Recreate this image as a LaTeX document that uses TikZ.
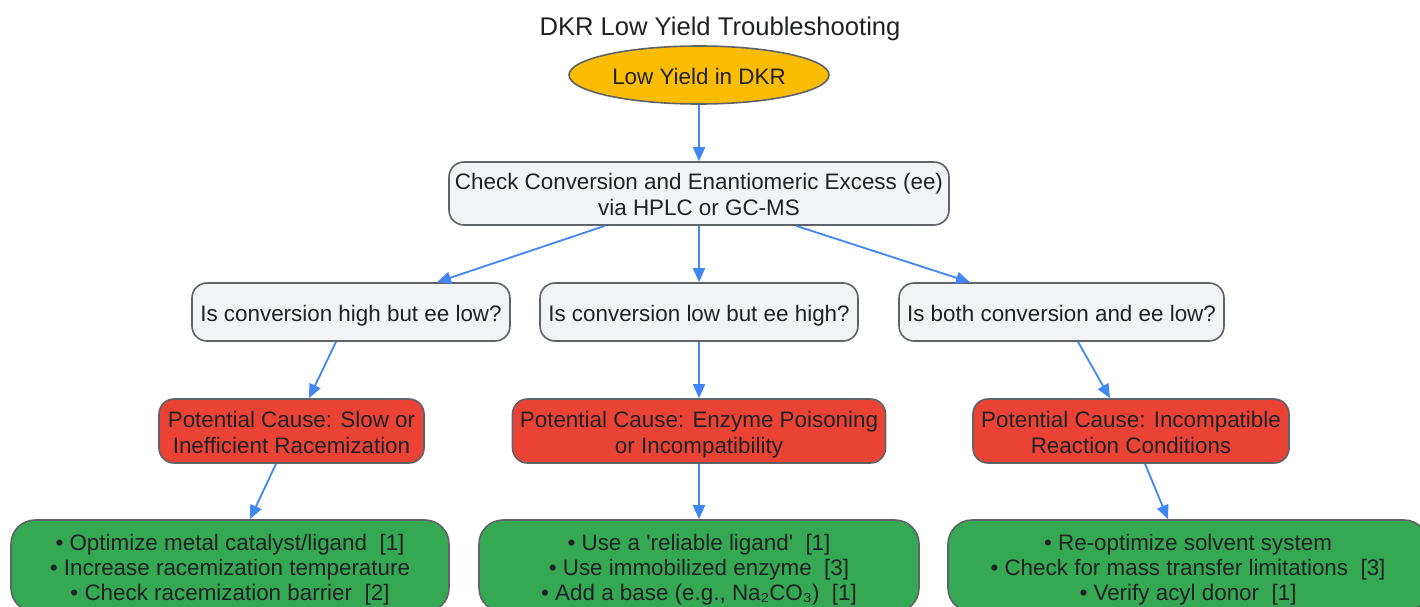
\documentclass[tikz,border=0pt]{standalone}
\usepackage{fontspec}
\setmainfont{Liberation Sans}[Ligatures=TeXOff]
\usetikzlibrary{arrows.meta,shapes.geometric,calc}
\definecolor{gfill}{HTML}{F1F3F4}
\definecolor{bord}{HTML}{5F6368}
\definecolor{amber}{HTML}{FBBC04}
\definecolor{redc}{HTML}{EA4335}
\definecolor{greenc}{HTML}{34A853}
\definecolor{bluec}{HTML}{4285F4}
\definecolor{txt}{HTML}{202124}
\newcommand{\lnstrut}{\rule[-0.212em]{0pt}{1.117em}}
\newcommand{\topstrut}{\rule[-0.212em]{0pt}{1.25em}}
\newcommand{\tx}[1]{\topstrut#1\lnstrut}
\begin{document}
\begin{tikzpicture}[x=1pt,y=-1pt,
 base/.style={draw=bord,line width=1.6pt,text=txt,font=\fontsize{22.4}{25}\selectfont,align=center,inner sep=0pt},
 gbox/.style={base,fill=gfill,rounded corners=15pt},
 rbox/.style={base,fill=redc,rounded corners=15pt},
 okbox/.style={base,fill=greenc,rounded corners=24pt},
 arr/.style={draw=bluec,line width=1.8pt,-{Triangle[length=14pt,width=12pt]}}]
\useasboundingbox (0,0) rectangle (1420,606);
\clip (0,0) rectangle (1420,606);
\node[text=txt,font=\fontsize{25.6}{30}\selectfont,inner sep=0pt] (title) at (720,25) {\tx{DKR Low Yield Troubleshooting}};
\node[base,ellipse,fill=amber,minimum width=260pt,minimum height=58pt] (start) at (699,75) {\tx{Low Yield in DKR}};
\node[gbox,minimum width=500pt,minimum height=63pt] (check) at (699,193.5) {\tx{Check Conversion and Enantiomeric Excess (ee)\\via HPLC or GC-MS}};
\node[gbox,minimum width=318pt,minimum height=58pt] (q1) at (351,312) {\tx{Is conversion high but ee low?}};
\node[gbox,minimum width=318pt,minimum height=58pt] (q2) at (699,312) {\tx{Is conversion low but ee high?}};
\node[gbox,minimum width=325pt,minimum height=58pt] (q3) at (1061.5,312) {\tx{Is both conversion and ee low?}};
\node[rbox,minimum width=265pt,minimum height=64pt] (r1) at (291.5,431) {\tx{Potential Cause: Slow or\\Inefficient Racemization}};
\node[rbox,minimum width=373pt,minimum height=64pt] (r2) at (699,431) {\tx{Potential Cause: Enzyme Poisoning\\or Incompatibility}};
\node[rbox,minimum width=316pt,minimum height=64pt] (r3) at (1131,431) {\tx{Potential Cause: Incompatible\\Reaction Conditions}};
\node[okbox,minimum width=438pt,minimum height=92pt] (g1) at (230,566) {\tx{• Optimize metal catalyst/ligand\ \ [1]\\• Increase racemization temperature\\• Check racemization barrier\ \ [2]}};
\node[okbox,minimum width=440pt,minimum height=92pt] (g2) at (699,566) {\tx{• Use a 'reliable ligand'\ \ [1]\\• Use immobilized enzyme\ \ [3]\\• Add a base (e.g., Na₂CO₃)\ \ [1]}};
\node[okbox,minimum width=480pt,minimum height=92pt] (g3) at (1188,566) {\tx{• Re-optimize solvent system\\• Check for mass transfer limitations\ \ [3]\\• Verify acyl donor\ \ [1]}};
\draw[arr] (start.south) -- (check.north);
\draw[arr] ([xshift=-94pt]check.south) -- ([xshift=86pt]q1.north);
\draw[arr] (check.south) -- (q2.north);
\draw[arr] ([xshift=97pt]check.south) -- ([xshift=-91.5pt]q3.north);
\draw[arr] ([xshift=-15pt]q1.south) -- ([xshift=17.5pt]r1.north);
\draw[arr] (q2.south) -- (r2.north);
\draw[arr] ([xshift=16.5pt]q3.south) -- ([xshift=-21pt]r3.north);
\draw[arr] ([xshift=-15.5pt]r1.south) -- ([xshift=20pt]g1.north);
\draw[arr] (r2.south) -- (g2.north);
\draw[arr] ([xshift=14pt]r3.south) -- ([xshift=-20pt]g3.north);
\end{tikzpicture}
\end{document}
